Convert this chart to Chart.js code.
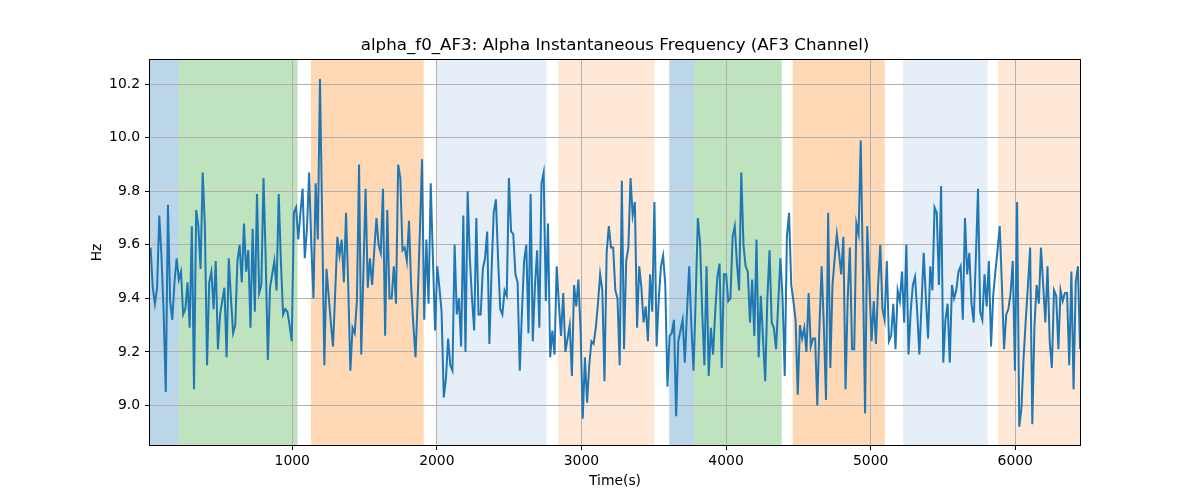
<!DOCTYPE html>
<html>
<head>
<meta charset="utf-8">
<script src="https://cdn.jsdelivr.net/npm/chart.js@4"></script>
<style>
  html, body { margin: 0; padding: 0; background: #fff; }
  canvas { display: block; }
</style>
</head>
<body>
<canvas id="freqChart" width="1200" height="500"></canvas>
<script>
var chartTitle = 'alpha_f0_AF3: Alpha Instantaneous Frequency (AF3 Channel)';
var xLabel = 'Time(s)';
var yLabel = 'Hz';

// time axis: evenly sampled windows
var timeStart = 20;
var timeStep = 15.02;
var xMin = 16, xMax = 6448;
var yMin = 8.852, yMax = 10.291;
var xTicks = [1000, 2000, 3000, 4000, 5000, 6000];
var yTicks = [9.0, 9.2, 9.4, 9.6, 9.8, 10.0, 10.2];

// shaded segments (start, end, colour)
var bandStarts = [16, 216, 1129, 1994, 2838, 3607, 3778, 4461, 5224, 5881];
var bandEnds   = [216, 1037, 1909, 2759, 3506, 3778, 4385, 5097, 5809, 6448];
var bandColors = [
  'rgba(31,119,180,0.3)', 'rgba(44,160,44,0.3)', 'rgba(255,127,14,0.3)',
  'rgba(60,120,200,0.13)', 'rgba(255,127,14,0.17)',
  'rgba(31,119,180,0.3)', 'rgba(44,160,44,0.3)', 'rgba(255,127,14,0.3)',
  'rgba(60,120,200,0.13)', 'rgba(255,127,14,0.17)'
];

var hzValues = [
  9.59, 9.44, 9.38, 9.44, 9.71, 9.56, 9.35, 9.05, 9.75, 9.39, 9.32, 9.46, 9.55, 9.47, 9.50, 9.34, 9.36, 9.46, 9.29, 9.67, 9.06, 9.73,
  9.67, 9.51, 9.87, 9.67, 9.15, 9.46, 9.50, 9.36, 9.54, 9.21, 9.34, 9.39, 9.44, 9.18, 9.55, 9.40, 9.27, 9.30, 9.54, 9.60, 9.46, 9.68,
  9.50, 9.58, 9.29, 9.66, 9.35, 9.79, 9.42, 9.45, 9.85, 9.55, 9.17, 9.44, 9.49, 9.54, 9.43, 9.79, 9.54, 9.34, 9.36, 9.35, 9.30,
  9.24, 9.72, 9.74, 9.62, 9.72, 9.81, 9.55, 9.66, 9.87, 9.60, 9.40, 9.83, 9.62, 10.22, 9.70, 9.15, 9.51, 9.41, 9.31, 9.22,
  9.42, 9.63, 9.56, 9.62, 9.46, 9.72, 9.45, 9.13, 9.29, 9.27, 9.39, 9.90, 9.19, 9.50, 9.81, 9.44, 9.55, 9.45, 9.58, 9.70, 9.60,
  9.57, 9.81, 9.26, 9.73, 9.40, 9.40, 9.52, 9.38, 9.90, 9.85, 9.58, 9.59, 9.54, 9.69, 9.44, 9.30, 9.18, 9.40, 9.65, 9.92, 9.32, 9.62,
  9.38, 9.83, 9.55, 9.28, 9.52, 9.44, 9.35, 9.03, 9.10, 9.25, 9.15, 9.13, 9.60, 9.34, 9.40, 9.22, 9.71, 9.20, 9.80, 9.55, 9.40,
  9.28, 9.70, 9.34, 9.34, 9.51, 9.55, 9.65, 9.23, 9.50, 9.72, 9.77, 9.55, 9.36, 9.34, 9.43, 9.41, 9.85, 9.65, 9.64, 9.49, 9.46,
  9.13, 9.35, 9.54, 9.60, 9.27, 9.79, 9.24, 9.45, 9.58, 9.29, 9.83, 9.87, 9.39, 9.68, 9.18, 9.28, 9.19, 9.52, 9.38, 9.26, 9.42,
  9.20, 9.25, 9.30, 9.11, 9.45, 9.37, 9.47, 9.28, 8.95, 9.18, 9.01, 9.15, 9.24, 9.23, 9.29, 9.38, 9.49, 9.43, 9.09, 9.57, 9.67,
  9.59, 9.59, 9.43, 9.40, 9.15, 9.84, 9.21, 9.54, 9.59, 9.85, 9.71, 9.76, 9.29, 9.52, 9.44, 9.31, 9.37, 9.24, 9.49, 9.35, 9.76,
  9.22, 9.40, 9.52, 9.56, 9.45, 9.07, 9.26, 9.27, 9.32, 8.96, 9.24, 9.28, 9.32, 9.16, 9.35, 9.52, 9.30, 9.13, 9.40, 9.70, 9.61, 9.35,
  9.15, 9.52, 9.11, 9.29, 9.19, 9.35, 9.48, 9.53, 9.14, 9.49, 9.49, 9.39, 9.40, 9.63, 9.67, 9.53, 9.43, 9.87, 9.60, 9.52, 9.50,
  9.31, 9.47, 9.26, 9.62, 9.18, 9.41, 9.25, 9.09, 9.40, 9.58, 9.31, 9.29, 9.21, 9.38, 9.55, 9.40, 9.11, 9.63, 9.72, 9.45, 9.39,
  9.32, 9.04, 9.30, 9.25, 9.29, 9.20, 9.42, 9.22, 9.25, 9.25, 9.00, 9.30, 9.52, 9.30, 9.02, 9.72, 9.14, 9.45, 9.55, 9.64, 9.57,
  9.49, 9.63, 9.06, 9.40, 9.59, 9.21, 9.21, 9.68, 9.64, 9.99, 9.50, 8.97, 9.67, 9.45, 9.24, 9.39, 9.23, 9.45, 9.60, 9.36, 9.32, 9.54,
  9.24, 9.26, 9.38, 9.21, 9.43, 9.39, 9.50, 9.31, 9.60, 9.19, 9.35, 9.45, 9.48, 9.35, 9.19, 9.38, 9.57, 9.40, 9.25, 9.52, 9.43,
  9.74, 9.72, 9.45, 9.82, 9.16, 9.32, 9.38, 9.16, 9.45, 9.40, 9.43, 9.50, 9.52, 9.32, 9.70, 9.49, 9.57, 9.38, 9.31, 9.55, 9.81,
  9.35, 9.32, 9.49, 9.37, 9.54, 9.22, 9.41, 9.50, 9.58, 9.67, 9.45, 9.21, 9.34, 9.36, 9.42, 9.54, 9.13, 9.76, 8.92, 8.99, 9.18, 9.32,
  9.45, 9.59, 8.93, 9.30, 9.45, 9.38, 9.59, 9.45, 9.31, 9.52, 9.24, 9.14, 9.43, 9.41, 9.21, 9.43, 9.39, 9.42, 9.42, 9.15, 9.50,
  9.06, 9.46, 9.52, 9.21
];

var points = hzValues.map(function(v, i) {
  return { x: timeStart + i * timeStep, y: v };
});

var FONT = "'DejaVu Sans', sans-serif";

// axvspan-like shading, drawn under the grid
var bandsPlugin = {
  id: 'bands',
  beforeDraw: function(chart) {
    var ctx = chart.ctx, area = chart.chartArea, xs = chart.scales.x;
    ctx.save();
    ctx.fillStyle = '#fff';
    ctx.fillRect(0, 0, chart.width, chart.height);
    for (var i = 0; i < bandStarts.length; i++) {
      var x0 = xs.getPixelForValue(bandStarts[i]);
      var x1 = xs.getPixelForValue(bandEnds[i]);
      ctx.fillStyle = bandColors[i];
      ctx.fillRect(x0, area.top, x1 - x0, area.bottom - area.top);
    }
    ctx.restore();
  }
};

// frame + title + axis labels
var framePlugin = {
  id: 'frame',
  afterDraw: function(chart) {
    var ctx = chart.ctx, a = chart.chartArea;
    ctx.save();
    ctx.strokeStyle = '#000';
    ctx.lineWidth = 1;
    ctx.strokeRect(Math.round(a.left) - 0.5, Math.round(a.top) - 0.5,
                   Math.round(a.right - a.left) + 1, Math.round(a.bottom - a.top) + 1);
    ctx.fillStyle = '#000';
    ctx.textAlign = 'center';
    ctx.textBaseline = 'middle';
    ctx.font = '16.7px ' + FONT;
    ctx.fillText(chartTitle, (a.left + a.right) / 2, 46);
    ctx.font = '13.9px ' + FONT;
    ctx.fillText(xLabel, (a.left + a.right) / 2, 481);
    ctx.translate(97, (a.top + a.bottom) / 2);
    ctx.rotate(-Math.PI / 2);
    ctx.fillText(yLabel, 0, 0);
    ctx.restore();
  }
};

new Chart(document.getElementById('freqChart').getContext('2d'), {
  type: 'line',
  data: {
    datasets: [{
      label: 'alpha_f0_AF3',
      data: points,
      borderColor: '#1f77b4',
      borderWidth: 2,
      pointRadius: 0,
      tension: 0,
      fill: false
    }]
  },
  options: {
    responsive: false,
    animation: false,
    devicePixelRatio: 1,
    parsing: false,
    layout: { padding: { left: 0, right: 120, top: 60, bottom: 0 } },
    plugins: {
      legend: { display: false },
      title: { display: false },
      tooltip: { enabled: false }
    },
    scales: {
      x: {
        type: 'linear',
        min: xMin,
        max: xMax,
        afterFit: function(s) { s.height = 55; },
        afterBuildTicks: function(s) { s.ticks = xTicks.map(function(v) { return { value: v }; }); },
        grid: { color: '#b0b0b0', lineWidth: 1, tickColor: '#000', tickLength: 5 },
        border: { display: false },
        ticks: { color: '#000', font: { family: FONT, size: 13.9 }, padding: 3, maxRotation: 0,
                 callback: function(v) { return String(v); } }
      },
      y: {
        type: 'linear',
        min: yMin,
        max: yMax,
        afterFit: function(s) { s.width = 150; },
        afterBuildTicks: function(s) { s.ticks = yTicks.map(function(v) { return { value: v }; }); },
        grid: { color: '#b0b0b0', lineWidth: 1, tickColor: '#000', tickLength: 5 },
        border: { display: false },
        ticks: { color: '#000', font: { family: FONT, size: 13.9 }, padding: 5,
                 callback: function(v) { return Number(v).toFixed(1); } }
      }
    }
  },
  plugins: [bandsPlugin, framePlugin]
});
</script>
</body>
</html>
